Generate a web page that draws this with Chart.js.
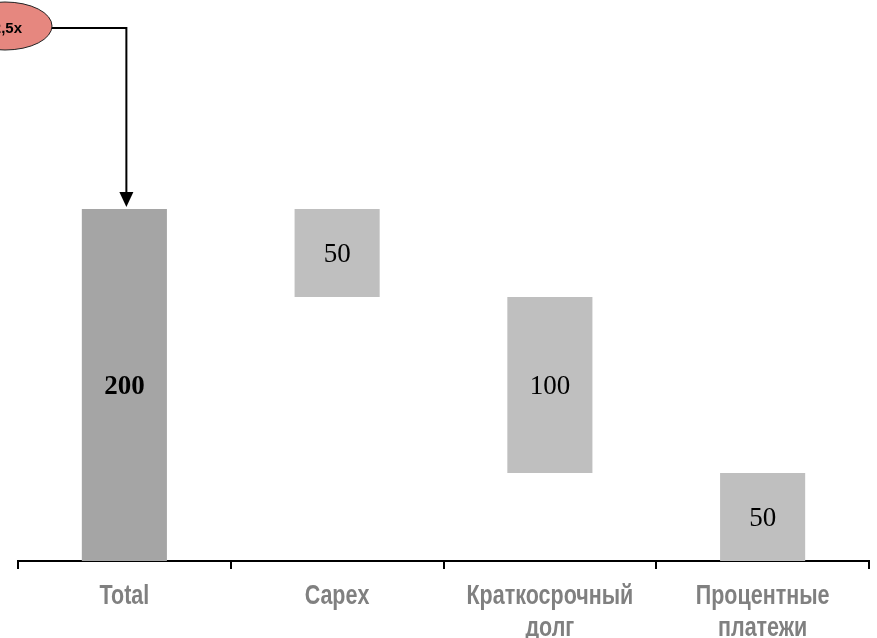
<!DOCTYPE html>
<html>
<head>
<meta charset="utf-8">
<script src="https://cdn.jsdelivr.net/npm/chart.js@4/dist/chart.umd.min.js"></script>
<style>
  html, body { margin: 0; padding: 0; background: #fff; }
  #wrap { width: 877px; height: 638px; position: relative; }
</style>
</head>
<body>
<div id="wrap"><canvas id="c"></canvas></div>
<script>
// Waterfall: total debt load split into its components
const categories = ['Total', 'Capex', ['Краткосрочный', 'долг'], ['Процентные', 'платежи']];
const values = [200, 50, 100, 50];
const barColors = ['#A5A5A5', '#BFBFBF', '#BFBFBF', '#BFBFBF'];
const multipleLabel = '2,5x';

// Floating ranges: first bar is the total, the rest step down from it
const ranges = [];
let level = values[0];
ranges.push([0, values[0]]);
for (let i = 1; i < values.length; i++) {
  ranges.push([level - values[i], level]);
  level -= values[i];
}

// Text drawn with an optional vertical stretch
function tallText(ctx, text, x, y, font, stretch) {
  ctx.save();
  ctx.translate(x, y);
  ctx.scale(1, stretch);
  ctx.font = font;
  ctx.fillText(text, 0, 0);
  ctx.restore();
}

const valueLabels = {
  id: 'valueLabels',
  afterDatasetsDraw(chart) {
    const ctx = chart.ctx;
    const meta = chart.getDatasetMeta(0);
    ctx.save();
    ctx.textAlign = 'center';
    ctx.textBaseline = 'middle';
    ctx.fillStyle = '#000';
    meta.data.forEach((bar, i) => {
      const p = bar.getProps(['x', 'y', 'base'], true);
      const font = (i === 0 ? 'bold ' : '') + '27px "Liberation Serif", serif';
      tallText(ctx, String(values[i]), p.x, (p.y + p.base) / 2 + 2, font, 1.05);
    });
    ctx.restore();
  }
};

// Category names under the axis, in tall narrow lettering
const categoryLabels = {
  id: 'categoryLabels',
  afterDraw(chart) {
    const ctx = chart.ctx;
    const xs = chart.scales.x;
    ctx.save();
    ctx.textAlign = 'center';
    ctx.textBaseline = 'alphabetic';
    ctx.fillStyle = '#808080';
    const font = 'bold 21.5px "Liberation Sans", Arial, sans-serif';
    categories.forEach((lab, i) => {
      const lines = Array.isArray(lab) ? lab : [lab];
      const x = xs.getPixelForValue(i);
      lines.forEach((ln, j) => {
        tallText(ctx, ln, x, xs.top + 43 + j * 32, font, 1.3);
      });
    });
    ctx.restore();
  }
};

const multipleCallout = {
  id: 'multipleCallout',
  afterDraw(chart) {
    const ctx = chart.ctx;
    const bar = chart.getDatasetMeta(0).data[0].getProps(['x', 'y'], true);
    const cx = 5, cy = 26, rx = 47, ry = 24;
    const lx = bar.x + 2;
    ctx.save();
    // connector: from the oval to the top of the total bar
    ctx.strokeStyle = '#000';
    ctx.lineWidth = 2;
    ctx.beginPath();
    ctx.moveTo(cx + rx, 28);
    ctx.lineTo(lx, 28);
    ctx.lineTo(lx, bar.y - 14);
    ctx.stroke();
    ctx.fillStyle = '#000';
    ctx.beginPath();
    ctx.moveTo(lx - 7, bar.y - 17);
    ctx.lineTo(lx + 7, bar.y - 17);
    ctx.lineTo(lx, bar.y - 2);
    ctx.closePath();
    ctx.fill();
    // oval
    ctx.beginPath();
    ctx.ellipse(cx, cy, rx, ry, 0, 0, Math.PI * 2);
    ctx.fillStyle = '#E6877F';
    ctx.fill();
    ctx.lineWidth = 1;
    ctx.strokeStyle = '#222';
    ctx.stroke();
    ctx.fillStyle = '#000';
    ctx.textAlign = 'right';
    ctx.textBaseline = 'middle';
    ctx.font = 'bold 15px "Liberation Sans", Arial, sans-serif';
    ctx.fillText(multipleLabel, 22, 29);
    ctx.restore();
  }
};

new Chart(document.getElementById('c'), {
  type: 'bar',
  data: {
    labels: categories,
    datasets: [{
      data: ranges,
      backgroundColor: barColors,
      borderWidth: 0,
      barPercentage: 0.4,
      categoryPercentage: 1.0
    }]
  },
  options: {
    responsive: true,
    maintainAspectRatio: false,
    animation: false,
    layout: { padding: { left: 18, right: 8, top: 33, bottom: 0 } },
    plugins: { legend: { display: false }, tooltip: { enabled: false } },
    scales: {
      x: {
        offset: true,
        border: { display: true, color: '#000', width: 2 },
        grid: { offset: true, drawOnChartArea: false, drawTicks: true, tickLength: 8, color: '#000', lineWidth: 2 },
        ticks: {
          color: 'rgba(0,0,0,0)',
          maxRotation: 0,
          autoSkip: false,
          font: { size: 12 }
        },
        afterFit(scale) { scale.height = 77; }
      },
      y: {
        display: false,
        min: 0,
        max: 300
      }
    }
  },
  plugins: [valueLabels, categoryLabels, multipleCallout]
});
</script>
</body>
</html>
